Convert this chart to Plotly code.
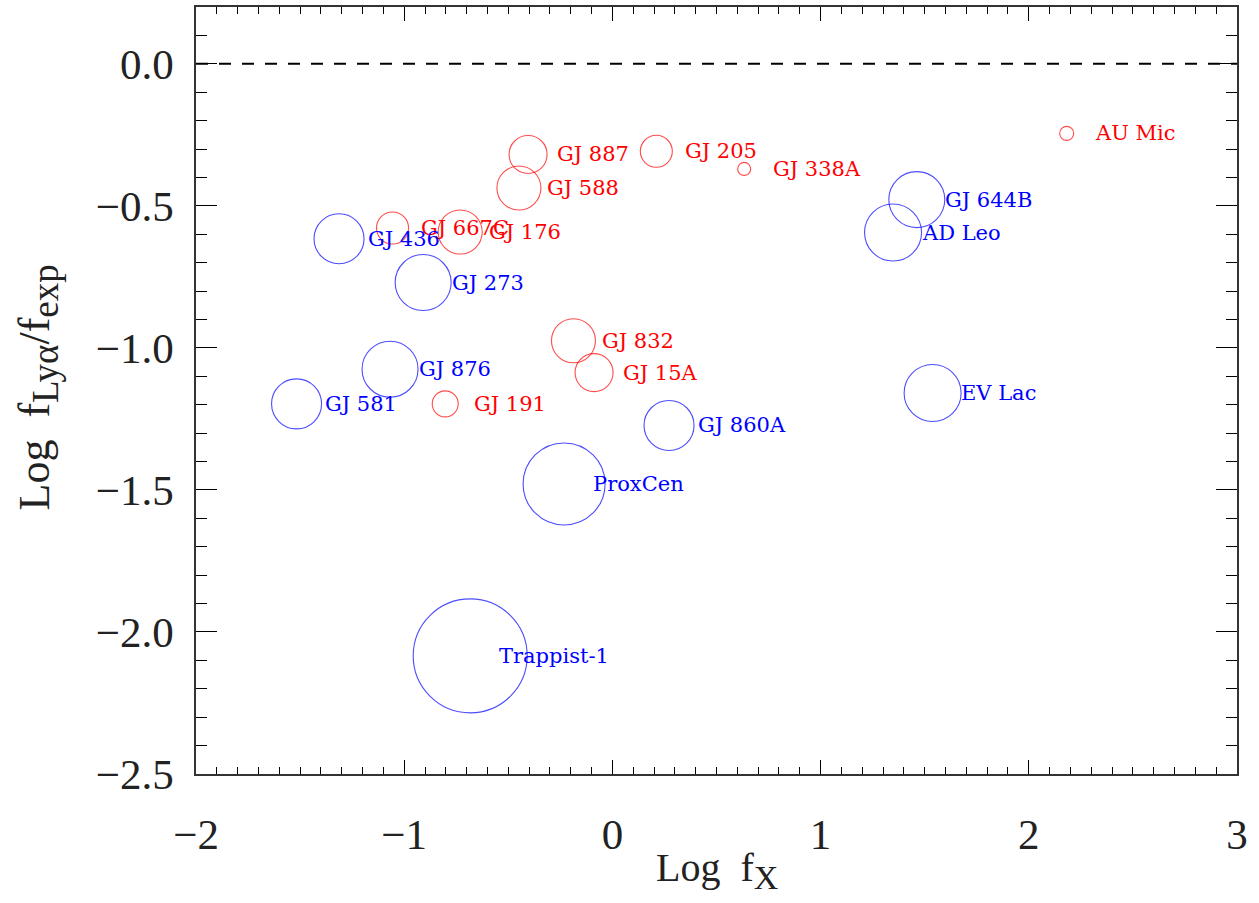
import plotly.graph_objects as go

# ---- data ----
red_names = ["AU Mic", "GJ 338A", "GJ 205", "GJ 887", "GJ 588", "GJ 667C",
             "GJ 176", "GJ 832", "GJ 15A", "GJ 191"]
red_log_fx = [2.182, 0.633, 0.211, -0.405, -0.449, -1.056, -0.731, -0.187, -0.088, -0.803]
red_log_ratio = [-0.245, -0.370, -0.308, -0.319, -0.437, -0.578, -0.592, -0.975, -1.087, -1.197]
red_circle = [14, 13, 32, 38, 44, 32, 44, 44, 38, 26]

blue_names = ["GJ 436", "GJ 273", "GJ 876", "GJ 581", "ProxCen", "Trappist-1",
              "GJ 860A", "EV Lac", "AD Leo", "GJ 644B"]
blue_log_fx = [-1.313, -0.909, -1.068, -1.517, -0.232, -0.683, 0.272, 1.538, 1.348, 1.462]
blue_log_ratio = [-0.616, -0.770, -1.075, -1.197, -1.479, -2.084, -1.273, -1.159, -0.594, -0.478]
blue_circle = [50, 56, 56, 50, 82, 114, 50, 57, 57, 56]

x_ticks = [-2, -1, 0, 1, 2, 3]
x_tick_text = ["\u22122", "\u22121", "0", "1", "2", "3"]
y_ticks = [0.0, -0.5, -1.0, -1.5, -2.0, -2.5]
y_tick_text = ["0.0", "\u22120.5", "\u22121.0", "\u22121.5", "\u22122.0", "\u22122.5"]

RED = "#ff0000"
BLUE = "#0000ff"
LABEL_DX = 0.132
LABEL_FONT = "DejaVu Serif"
AXIS_FONT = "Liberation Serif"
TEXT_COL = "#222222"


def sub(s, px):
    return "<sub><span style='font-size:%dpx'>%s</span></sub>" % (px, s)


fig = go.Figure()

# reference dashed line at 0
fig.add_shape(type="line", xref="x", yref="y", x0=-2, x1=3, y0=0, y1=0,
              line=dict(color="black", width=2, dash="12px,11px"))

for xs, ys, ds, col in [(red_log_fx, red_log_ratio, red_circle, RED),
                        (blue_log_fx, blue_log_ratio, blue_circle, BLUE)]:
    fig.add_trace(go.Scatter(
        x=xs, y=ys, mode="markers",
        marker=dict(symbol="circle-open", size=ds, color=col, line=dict(width=1.1, color=col)),
        showlegend=False, hoverinfo="skip"))

for names, xs, ys, col in [(red_names, red_log_fx, red_log_ratio, RED),
                           (blue_names, blue_log_fx, blue_log_ratio, BLUE)]:
    for n, x, y in zip(names, xs, ys):
        fig.add_annotation(x=x + LABEL_DX, y=y, xref="x", yref="y", text=n,
                           showarrow=False, xanchor="left", yanchor="middle",
                           font=dict(family=LABEL_FONT, size=21, color=col),
                           borderpad=0)

# axis titles
fig.add_annotation(x=0.5, y=0, xref="paper", yref="paper", text="Log\u2002f" + sub("X", 34),
                   showarrow=False, xanchor="center", yanchor="middle", yshift=-96,
                   font=dict(family=AXIS_FONT, size=40, color=TEXT_COL))
fig.add_annotation(x=0, y=0.5, xref="paper", yref="paper",
                   text="Log\u2002f" + sub("Ly\u03b1", 37) + "/f" + sub("exp", 37), textangle=-90,
                   showarrow=False, xanchor="center", yanchor="middle",
                   xshift=-159, yshift=3,
                   font=dict(family=AXIS_FONT, size=44, color=TEXT_COL))

axis_common = dict(
    showgrid=False, zeroline=False, showline=True, linecolor="#333333", linewidth=1.5,
    mirror="ticks", ticks="inside", tickcolor="black", tickwidth=1.2,
    tickfont=dict(family=AXIS_FONT, size=43, color=TEXT_COL),
)

fig.update_xaxes(
    range=[-2, 3], tickvals=x_ticks, ticktext=x_tick_text,
    ticklen=14,
    minor=dict(dtick=0.1, ticklen=7, ticks="inside", tickcolor="black", tickwidth=1.2),
    ticklabelstandoff=22,
    **axis_common)

fig.update_yaxes(
    range=[-2.5, 0.2], tickvals=y_ticks, ticktext=y_tick_text,
    ticklen=21,
    minor=dict(dtick=0.1, ticklen=11, ticks="inside", tickcolor="black", tickwidth=1.2),
    ticklabelstandoff=12,
    **axis_common)

fig.update_layout(
    width=1259, height=903,
    margin=dict(l=196, r=22, t=5, b=129),
    plot_bgcolor="white", paper_bgcolor="white",
)

fig.write_html("out.html", config={"displayModeBar": False},
               post_script="document.body.style.margin='0px';")
